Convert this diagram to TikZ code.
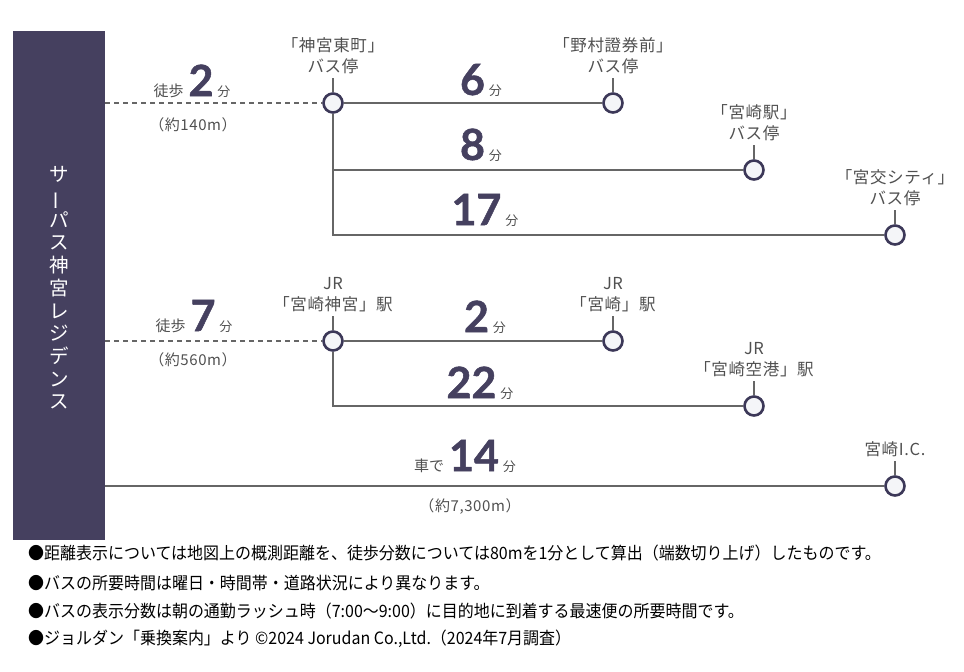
\documentclass[tikz,border=0pt]{standalone}
\usepackage{fontspec}
\setmainfont{Noto Sans CJK JP}
\newfontfamily\numfont{Lato}[BoldFeatures={FakeBold=1.2}]
\newfontfamily\notefont{Noto Sans CJK JP}[FakeStretch=0.94]
\newfontfamily\lblfont{Noto Sans CJK JP}[LetterSpace=4]
\usetikzlibrary{positioning}
\definecolor{navy}{HTML}{45405F}
\definecolor{ring}{HTML}{3C3858}
\definecolor{fillc}{HTML}{F4F5F8}
\definecolor{linec}{HTML}{666666}
\definecolor{txt}{HTML}{505050}
\newcommand\timelab[2]{{\fontsize{15}{15}\selectfont\color{txt}#1}\hspace{5pt}{\numfont\bfseries\fontsize{43}{43}\selectfont\color{navy}#2}\hspace{4pt}{\fontsize{13}{13}\selectfont\color{txt}分}}
\newcommand\timeonly[1]{{\numfont\bfseries\fontsize{43}{43}\selectfont\color{navy}#1}\hspace{4pt}{\fontsize{13}{13}\selectfont\color{txt}分}}
\begin{document}
\begin{tikzpicture}[x=1pt,y=-1pt,
 stop/.style={circle,draw=ring,fill=fillc,line width=2.6pt,minimum size=19pt,inner sep=0pt},
 route/.style={draw=linec,line width=1.4pt},
 walk/.style={draw=linec,line width=1.4pt,dash pattern=on 5pt off 4pt},
 tick/.style={draw=linec,line width=1.2pt},
 lbl/.style={text=txt,font=\lblfont\fontsize{16.5}{21}\selectfont,align=center,inner sep=0pt},
 time/.style={inner sep=0pt,anchor=base},
 dist/.style={text=txt,font=\lblfont\fontsize{15}{16}\selectfont,inner sep=0pt},
 note/.style={anchor=base west,inner sep=0pt,font=\notefont\fontsize{17}{20}\selectfont,text=black}
]
\useasboundingbox (0,0) rectangle (964,672);
% bar
\node[fill=navy,minimum width=92pt,minimum height=509pt,inner sep=0pt,anchor=north west] (bar) at (13,31) {};
\node[text=white,font=\fontsize{19.5}{22.7}\selectfont,align=center,inner sep=0pt] (title) at (59,288)
 {サ\\\rotatebox[origin=c]{90}{ー}\\パ\\ス\\神\\宮\\レ\\ジ\\デ\\ン\\ス};
% stops
\node[stop] (a1) at (333,103) {};
\node[stop] (b1) at (613,103) {};
\node[stop] (c1) at (754,170) {};
\node[stop] (d1) at (895,235) {};
\node[stop] (a2) at (333,341) {};
\node[stop] (b2) at (613,341) {};
\node[stop] (c2) at (754,406) {};
\node[stop] (ic) at (895,486) {};
\coordinate (j1) at (333,170);
\coordinate (k1) at (333,235);
\coordinate (k2) at (333,406);
% routes
\draw[walk] (bar.east |- a1) -- (a1.west);
\draw[route] (a1) -- (b1);
\draw[route] (a1.south) -- (k1) -- (d1);
\draw[route] (j1) -- (c1);
\draw[walk] (bar.east |- a2) -- (a2.west);
\draw[route] (a2) -- (b2);
\draw[route] (a2.south) -- (k2) -- (c2);
\draw[route] (bar.east |- ic) -- (ic);
% labels
\node[lbl,above=18pt of a1] (la1) {「神宮東町」\\バス停};
\node[lbl,above=18pt of b1] (lb1) {「野村證券前」\\バス停};
\node[lbl,above=18pt of c1] (lc1) {「宮崎駅」\\バス停};
\node[lbl,above=18pt of d1] (ld1) {「宮交シティ」\\バス停};
\node[lbl,above=18pt of a2] (la2) {JR\\「宮崎神宮」駅};
\node[lbl,above=18pt of b2] (lb2) {JR\\「宮崎」駅};
\node[lbl,above=18pt of c2] (lc2) {JR\\「宮崎空港」駅};
\node[lbl,above=18pt of ic] (lic) {宮崎I.C.};
\foreach \s in {a1,b1,c1,d1,a2,b2,c2,ic}{
 \draw[tick] ([yshift=-4pt]l\s.south) -- (\s.north);
}
% times
\node[time] (t1) at (192,96) {\timelab{徒歩}{2}};
\node[time] (t2) at (481,95) {\timeonly{6}};
\node[time] (t3) at (481,160) {\timeonly{8}};
\node[time] (t4) at (485,225) {\timeonly{17}};
\node[time] (t5) at (194,331) {\timelab{徒歩}{7}};
\node[time] (t6) at (485,332) {\timeonly{2}};
\node[time] (t7) at (480,398) {\timeonly{22}};
\node[time] (t8) at (465,471) {\timelab{車で}{14}};
% distances
\node[dist] (d140) at (193,125) {（約140m）};
\node[dist] (d560) at (193,360) {（約560m）};
\node[dist] (d7300) at (470,506) {（約7,300m）};
% notes
\node[note] (n1) at (28,559.5) {●距離表示については地図上の概測距離を、徒歩分数については80mを1分として算出（端数切り上げ）したものです。};
\node[note] (n2) at (28,589.5) {●バスの所要時間は曜日・時間帯・道路状況により異なります。};
\node[note] (n3) at (28,617.5) {●バスの表示分数は朝の通勤ラッシュ時（7:00〜9:00）に目的地に到着する最速便の所要時間です。};
\node[note] (n4) at (28,644.5) {●ジョルダン「乗換案内」より ©2024 Jorudan Co.,Ltd.（2024年7月調査）};
\end{tikzpicture}
\end{document}
